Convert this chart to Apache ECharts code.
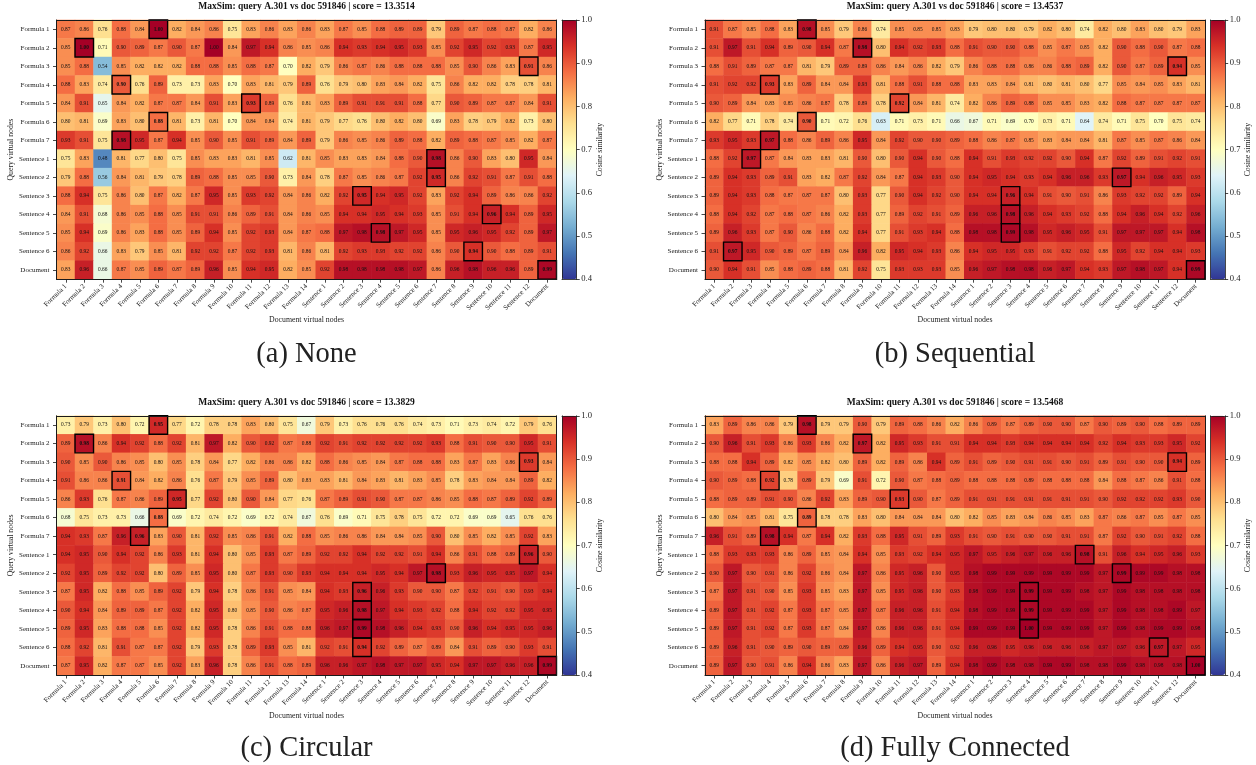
<!DOCTYPE html>
<html>
<head>
<meta charset="utf-8">
<style>html,body{margin:0;padding:0;background:#fff}#c{width:1256px;height:765px}</style>
<script src="https://cdn.jsdelivr.net/npm/echarts@6/dist/echarts.min.js"></script>
</head>
<body>
<div id="c"></div>
<script>
const formulaNodes = ["Formula 1","Formula 2","Formula 3","Formula 4","Formula 5","Formula 6","Formula 7"];
const queryLabels = [...formulaNodes,"Sentence 1","Sentence 2","Sentence 3","Sentence 4","Sentence 5","Sentence 6","Document"];
const docLabels = [...formulaNodes,"Formula 8","Formula 9","Formula 10","Formula 11","Formula 12","Formula 13","Formula 14","Sentence 1","Sentence 2","Sentence 3","Sentence 4","Sentence 5","Sentence 6","Sentence 7","Sentence 8","Sentence 9","Sentence 10","Sentence 11","Sentence 12","Document"];
const colorbarTicks = [0.4, 1.0];
const scoreLabels = ["13.3514","13.4537","13.3829","13.5468"];
const captions = ["(a) None","(b) Sequential","(c) Circular","(d) Fully Connected"];

const noneValues = [
[.87,.86,.76,.88,.84,1.00,.82,.84,.86,.75,.83,.86,.83,.86,.83,.87,.85,.88,.89,.89,.79,.89,.87,.88,.87,.82,.86],
[.85,1.00,.71,.90,.89,.87,.90,.87,1.00,.84,.97,.94,.86,.85,.86,.94,.93,.94,.95,.93,.85,.92,.95,.92,.93,.87,.95],
[.85,.88,.54,.85,.82,.82,.82,.88,.88,.85,.88,.87,.70,.82,.79,.86,.87,.86,.88,.88,.88,.85,.90,.86,.83,.91,.86],
[.88,.83,.74,.90,.76,.89,.73,.73,.83,.70,.83,.81,.79,.89,.76,.79,.80,.83,.84,.82,.75,.86,.82,.82,.78,.78,.81],
[.84,.91,.65,.84,.82,.87,.87,.84,.91,.83,.93,.89,.76,.81,.83,.89,.91,.91,.91,.88,.77,.90,.89,.87,.87,.84,.91],
[.80,.81,.69,.83,.80,.88,.81,.73,.81,.70,.84,.84,.74,.81,.79,.77,.76,.80,.82,.80,.69,.83,.78,.79,.82,.73,.80],
[.93,.91,.75,.98,.95,.87,.94,.85,.90,.85,.91,.89,.84,.89,.79,.86,.85,.86,.89,.88,.82,.89,.88,.87,.85,.82,.87],
[.75,.83,.48,.81,.77,.80,.75,.85,.83,.83,.81,.85,.62,.81,.85,.83,.83,.84,.88,.90,.98,.86,.90,.83,.80,.95,.84],
[.79,.88,.56,.84,.81,.79,.78,.89,.88,.85,.85,.90,.73,.84,.78,.87,.85,.86,.87,.92,.95,.86,.92,.91,.87,.91,.88],
[.88,.94,.75,.86,.80,.87,.82,.87,.95,.85,.93,.92,.84,.86,.82,.92,.95,.94,.95,.92,.83,.92,.94,.89,.86,.86,.92],
[.84,.91,.68,.86,.85,.88,.85,.91,.91,.86,.89,.91,.84,.86,.85,.94,.94,.95,.94,.93,.85,.91,.94,.96,.94,.89,.95],
[.85,.94,.69,.86,.83,.88,.85,.89,.94,.85,.92,.93,.84,.87,.88,.97,.98,.98,.97,.95,.85,.95,.96,.95,.92,.89,.97],
[.86,.92,.66,.83,.79,.85,.81,.92,.92,.87,.92,.93,.81,.86,.81,.92,.93,.93,.92,.92,.86,.90,.94,.90,.88,.89,.91],
[.83,.96,.66,.87,.85,.89,.87,.89,.96,.85,.94,.95,.82,.85,.92,.98,.98,.98,.98,.97,.86,.96,.98,.96,.96,.89,.99]
];
const sequentialValues = [
[.91,.87,.85,.88,.83,.98,.85,.79,.86,.74,.85,.85,.85,.83,.79,.80,.80,.79,.82,.80,.74,.82,.80,.83,.80,.79,.83],
[.91,.97,.91,.94,.89,.90,.94,.87,.98,.80,.94,.92,.93,.88,.91,.90,.90,.88,.85,.87,.85,.82,.90,.88,.90,.87,.88],
[.88,.91,.89,.87,.87,.81,.79,.89,.89,.86,.84,.86,.82,.79,.86,.88,.88,.86,.86,.88,.89,.82,.90,.87,.89,.94,.85],
[.91,.92,.92,.93,.83,.89,.84,.84,.93,.81,.88,.91,.88,.88,.83,.83,.84,.81,.80,.81,.80,.77,.85,.84,.85,.83,.81],
[.90,.89,.84,.83,.85,.86,.87,.78,.89,.78,.92,.84,.81,.74,.82,.86,.89,.88,.85,.85,.83,.82,.88,.87,.87,.87,.87],
[.82,.77,.71,.78,.74,.90,.71,.72,.76,.63,.71,.73,.71,.66,.67,.71,.69,.70,.73,.71,.64,.74,.71,.75,.70,.75,.74],
[.93,.95,.93,.97,.88,.86,.89,.86,.95,.84,.92,.90,.90,.89,.88,.86,.87,.85,.83,.84,.84,.81,.87,.85,.87,.86,.84],
[.88,.92,.97,.87,.84,.83,.83,.81,.90,.80,.90,.94,.90,.88,.94,.91,.93,.92,.92,.90,.94,.87,.92,.89,.91,.92,.91],
[.89,.94,.93,.89,.91,.83,.82,.87,.92,.84,.87,.94,.93,.90,.94,.95,.94,.93,.94,.96,.96,.93,.97,.94,.96,.95,.93],
[.89,.94,.93,.88,.87,.87,.87,.80,.93,.77,.90,.94,.92,.90,.94,.94,.96,.94,.91,.90,.91,.86,.93,.92,.92,.89,.94],
[.88,.94,.92,.87,.88,.87,.86,.82,.93,.77,.89,.92,.91,.89,.96,.96,.98,.96,.94,.93,.92,.88,.94,.96,.94,.92,.96],
[.89,.96,.93,.87,.90,.86,.88,.82,.94,.77,.91,.93,.94,.88,.98,.98,.99,.98,.95,.96,.95,.91,.97,.97,.97,.94,.98],
[.91,.97,.95,.90,.89,.87,.89,.84,.96,.82,.95,.94,.93,.86,.94,.95,.95,.93,.91,.92,.92,.88,.95,.92,.94,.94,.93],
[.90,.94,.91,.85,.88,.89,.88,.81,.92,.75,.93,.93,.93,.85,.96,.97,.98,.98,.96,.97,.94,.93,.97,.98,.97,.94,.99]
];
const circularValues = [
[.73,.79,.73,.80,.72,.95,.77,.72,.78,.78,.83,.80,.75,.67,.79,.73,.76,.76,.76,.74,.73,.71,.73,.74,.72,.79,.76],
[.89,.98,.86,.94,.92,.88,.92,.81,.97,.82,.90,.92,.87,.88,.92,.91,.92,.92,.92,.92,.93,.88,.91,.90,.90,.95,.91],
[.90,.85,.90,.86,.85,.80,.85,.78,.84,.77,.82,.86,.86,.82,.88,.86,.85,.84,.87,.88,.88,.83,.87,.83,.86,.93,.84],
[.91,.86,.86,.91,.84,.82,.86,.76,.87,.79,.85,.89,.80,.83,.83,.81,.84,.83,.81,.83,.85,.78,.83,.84,.84,.89,.82],
[.86,.93,.76,.87,.86,.89,.95,.77,.92,.80,.90,.84,.77,.76,.87,.89,.91,.90,.87,.87,.86,.85,.88,.87,.89,.92,.89],
[.68,.75,.73,.73,.66,.88,.69,.72,.74,.72,.69,.72,.74,.67,.76,.69,.71,.75,.78,.75,.72,.72,.69,.69,.65,.76,.76],
[.94,.93,.87,.96,.96,.83,.90,.81,.92,.85,.86,.91,.82,.88,.85,.86,.86,.84,.84,.85,.90,.80,.85,.82,.85,.92,.83],
[.94,.95,.90,.94,.92,.86,.93,.81,.94,.80,.85,.93,.87,.89,.92,.92,.94,.92,.92,.91,.94,.86,.91,.88,.89,.96,.90],
[.92,.95,.89,.92,.92,.80,.89,.85,.95,.80,.87,.93,.90,.93,.94,.94,.94,.95,.94,.97,.98,.93,.96,.95,.95,.97,.94],
[.87,.95,.82,.88,.85,.89,.92,.79,.94,.78,.86,.91,.85,.84,.94,.93,.96,.96,.93,.90,.90,.87,.92,.91,.90,.93,.94],
[.90,.94,.84,.89,.89,.87,.92,.82,.95,.80,.85,.90,.86,.87,.95,.96,.98,.97,.94,.93,.92,.88,.94,.92,.92,.95,.95],
[.89,.95,.83,.88,.88,.85,.92,.82,.95,.78,.86,.91,.88,.88,.96,.97,.99,.98,.96,.94,.93,.90,.96,.94,.95,.95,.96],
[.88,.92,.81,.91,.87,.87,.92,.79,.93,.78,.89,.93,.85,.81,.92,.91,.94,.92,.89,.87,.89,.84,.91,.89,.90,.93,.91],
[.87,.95,.82,.87,.87,.85,.92,.83,.96,.78,.86,.91,.88,.89,.96,.96,.97,.98,.97,.97,.95,.94,.97,.97,.96,.96,.99]
];
const fullValues = [
[.83,.89,.86,.86,.79,.98,.79,.79,.90,.79,.89,.88,.86,.82,.86,.89,.87,.89,.90,.90,.87,.90,.89,.90,.88,.89,.89],
[.90,.96,.91,.93,.86,.93,.86,.82,.97,.82,.95,.93,.91,.91,.94,.94,.93,.94,.94,.94,.94,.92,.94,.93,.93,.95,.92],
[.88,.88,.94,.89,.82,.85,.82,.80,.89,.82,.89,.86,.94,.89,.91,.89,.90,.91,.91,.90,.91,.89,.91,.90,.90,.94,.89],
[.90,.89,.88,.92,.78,.89,.79,.69,.91,.72,.90,.87,.88,.89,.88,.88,.88,.89,.88,.88,.88,.84,.88,.87,.86,.91,.88],
[.88,.89,.89,.91,.90,.86,.92,.83,.89,.90,.93,.90,.87,.89,.91,.91,.91,.91,.91,.91,.91,.90,.92,.92,.92,.93,.90],
[.80,.84,.85,.81,.75,.89,.78,.78,.83,.80,.84,.84,.84,.80,.82,.85,.83,.84,.86,.85,.83,.87,.86,.87,.85,.87,.85],
[.96,.91,.89,.98,.94,.87,.94,.82,.93,.88,.95,.91,.89,.93,.91,.90,.91,.90,.90,.91,.91,.87,.92,.90,.91,.92,.88],
[.88,.93,.93,.93,.86,.89,.85,.84,.94,.85,.93,.92,.94,.95,.97,.95,.96,.97,.96,.96,.98,.91,.96,.94,.95,.96,.93],
[.90,.97,.90,.91,.86,.92,.86,.84,.97,.86,.95,.96,.90,.95,.98,.99,.99,.99,.99,.99,.99,.97,.99,.99,.99,.98,.98],
[.87,.97,.91,.90,.85,.93,.85,.83,.97,.85,.95,.96,.90,.93,.98,.99,.99,.99,.99,.99,.98,.97,.99,.98,.98,.98,.98],
[.89,.97,.91,.92,.87,.93,.87,.85,.97,.87,.96,.96,.91,.94,.98,.99,.99,.99,.99,.99,.99,.97,.99,.98,.98,.99,.97],
[.89,.97,.91,.92,.87,.93,.87,.84,.97,.86,.96,.96,.91,.94,.99,.99,.99,1.00,.99,.99,.99,.97,.99,.98,.99,.99,.98],
[.89,.96,.91,.90,.89,.90,.89,.89,.96,.89,.94,.95,.90,.92,.96,.96,.95,.96,.96,.96,.96,.97,.97,.96,.97,.97,.95],
[.89,.97,.90,.91,.86,.94,.86,.83,.97,.86,.96,.97,.89,.94,.98,.99,.98,.98,.99,.99,.98,.98,.99,.98,.98,.98,1.00]
];
const noneBest = [5,1,25,3,10,5,3,20,20,16,23,17,22,26];
const sequentialBest = [5,8,25,3,10,5,3,2,22,16,16,16,1,26];
const circularBest = [5,1,25,3,6,5,4,25,20,16,16,16,16,26];
const fullBest = [5,8,25,3,10,5,3,20,22,17,17,17,24,26];

const allValues = [noneValues, sequentialValues, circularValues, fullValues];
const allBest = [noneBest, sequentialBest, circularBest, fullBest];
const rampColors = ["#313695","#4575b4","#74add1","#abd9e9","#e0f3f8","#ffffbf","#fee090","#fdae61","#f46d43","#d73027","#a50026"];
const SERIF = '"Liberation Serif","DejaVu Serif",serif';
const FRAME = "#1a1a1a";
const panels = [
  {l:56.5, t:20, w:500, h:259.2, capTop:340},
  {l:705, t:20, w:500, h:259.2, capTop:340},
  {l:56.5, t:415.8, w:500, h:259.2, capTop:734},
  {l:705, t:415.8, w:500, h:259.2, capTop:734}
];

const grid=[], xAxis=[], yAxis=[], series=[], visualMap=[], title=[];
panels.forEach((p,i)=>{
  const g = grid.length;
  grid.push({left:p.l, top:p.t, width:p.w, height:p.h, containLabel:false, show:false});
  const xi = xAxis.length, yi = yAxis.length;
  xAxis.push({type:"category", gridIndex:g, data:docLabels, position:"bottom",
    axisLine:{show:true, onZero:false, lineStyle:{color:FRAME,width:1}},
    axisTick:{show:true, alignWithLabel:true, length:3.5, lineStyle:{color:FRAME,width:.8}},
    axisLabel:{show:true, interval:0, rotate:45, fontFamily:SERIF, fontSize:7, color:"#222", margin:6},
    splitLine:{show:false}, splitArea:{show:false}, z:10,
    name:"Document virtual nodes", nameLocation:"middle", nameGap:37,
    nameTextStyle:{fontFamily:SERIF, fontSize:7.8, color:"#222"}});
  xAxis.push({type:"category", gridIndex:g, data:docLabels, position:"top", z:10,
    axisLine:{show:true, onZero:false, lineStyle:{color:FRAME,width:1}}, axisTick:{show:false}, axisLabel:{show:false}, splitLine:{show:false}});
  yAxis.push({type:"category", gridIndex:g, data:queryLabels, inverse:true, position:"left",
    axisLine:{show:true, onZero:false, lineStyle:{color:FRAME,width:1}},
    axisTick:{show:true, alignWithLabel:true, length:3.5, lineStyle:{color:FRAME,width:.8}},
    axisLabel:{show:true, interval:0, fontFamily:SERIF, fontSize:7, color:"#222", margin:7},
    splitLine:{show:false}, splitArea:{show:false}, z:10,
    name:"Query virtual nodes", nameLocation:"middle", nameGap:41, nameRotate:90,
    nameTextStyle:{fontFamily:SERIF, fontSize:7.8, color:"#222"}});
  yAxis.push({type:"category", gridIndex:g, data:queryLabels, inverse:true, position:"right", z:10,
    axisLine:{show:true, onZero:false, lineStyle:{color:FRAME,width:1}}, axisTick:{show:false}, axisLabel:{show:false}, splitLine:{show:false}});

  const rows = allValues[i], best = allBest[i], cells=[];
  rows.forEach((row,r)=>row.forEach((v,c)=>{
    const isBest = best[r]===c;
    cells.push({value:[c,r,v], label:{fontWeight:isBest?"bold":"normal"}});
  }));
  const heatIndex = series.length;
  series.push({type:"heatmap", xAxisIndex:xi, yAxisIndex:yi, data:cells, progressive:0, animation:false, silent:true, z:2,
    label:{show:true, fontFamily:SERIF, fontSize:5.4, color:"#111", formatter:o=>o.value[2].toFixed(2)},
    itemStyle:{borderWidth:0}, emphasis:{disabled:true}});
  series.push({type:"custom", xAxisIndex:xi, yAxisIndex:yi, animation:false, silent:true, z:5, clip:false,
    data:best.map((c,r)=>[c,r]),
    encode:{x:0,y:1},
    renderItem:(params,api)=>{
      const ctr = api.coord([api.value(0), api.value(1)]);
      const sz = api.size([1,1]);
      return {type:"rect", shape:{x:ctr[0]-sz[0]/2, y:ctr[1]-sz[1]/2, width:sz[0], height:sz[1]},
        style:{fill:null, stroke:"#000", lineWidth:1.4}};
    }});

  visualMap.push({type:"continuous", min:0.4, max:1.0, seriesIndex:heatIndex, dimension:2, calculable:false, show:true,
    left:p.l+p.w+5.5, top:p.t, itemWidth:14.7, itemHeight:p.h, padding:0, text:null, showLabel:false, realtime:false, z:1,
    inRange:{color:rampColors}, textStyle:{fontSize:0}});

  const cg = grid.length;
  grid.push({left:p.l+p.w+5.5, top:p.t, width:14.7, height:p.h, containLabel:false, show:false});
  xAxis.push({type:"value", gridIndex:cg, min:0, max:1, position:"bottom", z:10,
    axisLine:{show:true,onZero:false,lineStyle:{color:FRAME,width:.8}}, axisTick:{show:false}, axisLabel:{show:false}, splitLine:{show:false}});
  xAxis.push({type:"value", gridIndex:cg, min:0, max:1, position:"top", z:10,
    axisLine:{show:true,onZero:false,lineStyle:{color:FRAME,width:.8}}, axisTick:{show:false}, axisLabel:{show:false}, splitLine:{show:false}});
  yAxis.push({type:"value", gridIndex:cg, min:colorbarTicks[0], max:colorbarTicks[1], interval:0.1, position:"right", z:10,
    axisLine:{show:true,onZero:false,lineStyle:{color:FRAME,width:.8}},
    axisTick:{show:true,length:3,lineStyle:{color:FRAME,width:.8}},
    axisLabel:{show:true,fontFamily:SERIF,fontSize:8.6,color:"#222",margin:4.5,formatter:v=>v.toFixed(1)},
    splitLine:{show:false},
    name:"Cosine similarity", nameLocation:"middle", nameGap:17.5, nameRotate:90,
    nameTextStyle:{fontFamily:SERIF,fontSize:7.8,color:"#222"}});
  yAxis.push({type:"value", gridIndex:cg, min:colorbarTicks[0], max:colorbarTicks[1], position:"left", z:10,
    axisLine:{show:true,onZero:false,lineStyle:{color:FRAME,width:.8}}, axisTick:{show:false}, axisLabel:{show:false}, splitLine:{show:false}});

  title.push({text:"MaxSim: query A.301 vs doc 591846 | score = "+scoreLabels[i], left:p.l+p.w/2, top:p.t-18, textAlign:"center", padding:0,
    textStyle:{fontFamily:SERIF, fontSize:9.5, fontWeight:"bold", color:"#111"}});
  title.push({text:captions[i], left:p.l+p.w/2, top:p.capTop, textAlign:"center", padding:0,
    textStyle:{fontFamily:SERIF, fontSize:28.5, fontWeight:"normal", color:"#222"}});
});

const chart = echarts.init(document.getElementById("c"), null, {renderer:"canvas", width:1256, height:765});
chart.setOption({animation:false, backgroundColor:"#fff", title, grid, xAxis, yAxis, visualMap, series, tooltip:{show:false}});
</script>
</body>
</html>
